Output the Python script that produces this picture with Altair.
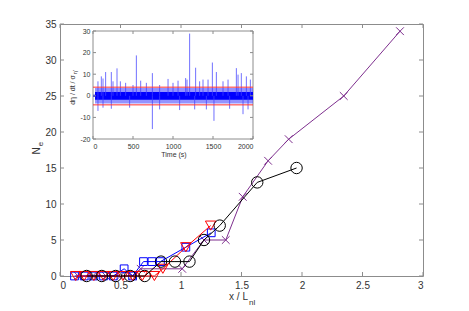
import altair as alt
import pandas as pd

# ---------------- main chart data ----------------
black_x = [0.22, 0.345, 0.46, 0.58, 0.70, 0.835, 0.95, 1.07, 1.19, 1.32, 1.63, 1.955]
black_y = [0, 0, 0, 0, 0, 2, 2, 2, 5, 7, 13, 15]
blue_x = [0.12, 0.20, 0.28, 0.36, 0.44, 0.53, 0.60, 0.69, 0.76, 0.83, 1.04, 1.25]
blue_y = [0, 0, 0, 0, 0, 1, 0, 2, 2, 2, 4, 6]
red_x = [0.13, 0.20, 0.28, 0.36, 0.44, 0.52, 0.60, 0.68, 0.78, 0.85, 1.04, 1.245]
red_y = [0, 0, 0, 0, 0, 0, 0, 0, 0, 1, 4, 7]
purple_x = [0.15, 0.27, 0.38, 0.50, 0.60, 0.667, 1.01, 1.19, 1.37, 1.51, 1.72, 1.89, 2.345, 2.81]
purple_y = [0, 0, 0, 0, 0, 1, 1, 5, 5, 11, 16, 19, 25, 34]

x_ticks = [0, 0.5, 1, 1.5, 2, 2.5, 3]
y_ticks = [0, 5, 10, 15, 20, 25, 30, 35]

# ---------------- inset data ----------------
up_t = [62, 104, 125, 158, 229, 250, 300, 342, 408, 500, 542, 596, 667, 742, 833, 938,
        1000, 1063, 1158, 1175, 1208, 1283, 1333, 1375, 1438, 1492, 1542, 1625, 1688,
        1792, 1813, 1854, 1917, 1967]
up_v = [6.7, 9, 8, 11, 11, 6.7, 12.7, 6.7, 6, 5, 18.7, 7, 6, 10.5, 5, 7.8,
        6, 7, 8.2, 7.5, 28.8, 13, 6.7, 7.5, 7.5, 15.4, 11, 6.7, 7.5,
        12.8, 9.8, 10.5, 9, 7.5]
down_t = [62, 125, 229, 458, 742, 833, 1083, 1271, 1417, 1512, 1708, 1875, 1938]
down_v = [-7, -5.5, -6, -5.5, -15.4, -6.3, -6.6, -6.3, -6.3, -11.6, -6, -8.5, -6.3]
band_t = [25, 2000]
core_lo, core_hi = -1.8, 1.8
halo_lo, halo_hi = -3.6, 3.6
thr_hi, thr_lo = 4.0, -4.2
ix_ticks = [0, 500, 1000, 1500, 2000]
iy_ticks = [-20, -10, 0, 10, 20, 30]

W, H = 363, 252
FONT = "Liberation Sans"
AX = "#8c8c8c"
TXT = "#333333"

# --------------- main layers ----------------
xs = alt.Scale(domain=[0, 3], nice=False)
ys = alt.Scale(domain=[0, 35], nice=False)
xaxis = alt.Axis(values=x_ticks, labelExpr="'' + datum.value", ticks=False, domain=False,
                 grid=False, title=None, labelFontSize=10, labelColor=TXT, labelFont=FONT,
                 labelPadding=4)
yaxis = alt.Axis(values=y_ticks, labelExpr="'' + datum.value", ticks=False, domain=False,
                 grid=False, title=None, labelFontSize=10, labelColor=TXT, labelFont=FONT,
                 labelPadding=4)


def series(xv, yv, color, shape, size):
    df = pd.DataFrame({"x": xv, "y": yv, "i": range(len(xv))})
    base = alt.Chart(df).encode(
        x=alt.X("x:Q", scale=xs, axis=xaxis),
        y=alt.Y("y:Q", scale=ys, axis=yaxis),
    )
    line = base.mark_line(color=color, strokeWidth=1).encode(order="i:Q")
    pts = base.mark_point(shape=shape, size=size, filled=False, color=color, strokeWidth=1, opacity=1)
    return [line, pts]


XSHAPE = "M-1,-1L1,1M-1,1L1,-1"
main_layers = []
main_layers += series(purple_x, purple_y, "#7E2F8E", XSHAPE, 60)
main_layers += series(blue_x, blue_y, "#0000FF", "square", 60)
main_layers += series(red_x, red_y, "#FF0000", "triangle-down", 110)
main_layers += series(black_x, black_y, "#000000", "circle", 130)

xt = pd.DataFrame({"v": x_ticks})
yt = pd.DataFrame({"v": y_ticks})
for (a, b) in [(H, H - 4), (0, 4)]:
    main_layers.append(alt.Chart(xt).mark_rule(color=AX, strokeWidth=1).encode(
        x=alt.X("v:Q", scale=xs, axis=xaxis), y=alt.value(a), y2=alt.value(b)))
for (a, b) in [(0, 4), (W, W - 4)]:
    main_layers.append(alt.Chart(yt).mark_rule(color=AX, strokeWidth=1).encode(
        y=alt.Y("v:Q", scale=ys, axis=yaxis), x=alt.value(a), x2=alt.value(b)))

one = pd.DataFrame({"k": [0]})


def label(txt, x, y, size, align="center", angle=0):
    return alt.Chart(one).mark_text(text=txt, fontSize=size, font=FONT, color=TXT,
                                    align=align, baseline="middle", angle=angle).encode(
        x=alt.value(x), y=alt.value(y))


main_layers += [
    label("x  / L", 188, 273, 10, align="right"),
    label("nl", 189, 279, 8, align="left"),
    label("N", -23, 127, 10, angle=270),
    label("e", -19, 120, 8, angle=270),
]
main = alt.layer(*main_layers)

# --------------- inset layers ----------------
ixs = alt.Scale(domain=[0, 2000], range=[33, 193], nice=False, zero=False)
iys = alt.Scale(domain=[-20, 30], range=[115, 7], nice=False, zero=False)
ixaxis = alt.Axis(orient="bottom", offset=115 - H, values=ix_ticks, labelExpr="'' + datum.value",
                  ticks=False, domain=False, grid=False, title=None, labelFontSize=7,
                  labelColor=TXT, labelFont=FONT, labelPadding=3)
iyaxis = alt.Axis(orient="left", offset=-33, values=iy_ticks, labelExpr="'' + datum.value",
                  ticks=False, domain=False, grid=False, title=None, labelFontSize=7,
                  labelColor=TXT, labelFont=FONT, labelPadding=3)

box = pd.DataFrame({"x0": [0], "x1": [2000], "y0": [-20], "y1": [30]})
inset_layers = [
    alt.Chart(box).mark_rect(fill="white", stroke=AX, strokeWidth=1).encode(
        x=alt.X("x0:Q", scale=ixs, axis=ixaxis), x2="x1:Q",
        y=alt.Y("y0:Q", scale=iys, axis=iyaxis), y2="y1:Q")
]
band = pd.DataFrame({"t": band_t, "hlo": [halo_lo] * 2, "hhi": [halo_hi] * 2,
                     "clo": [core_lo] * 2, "chi": [core_hi] * 2})
inset_layers.append(alt.Chart(band).mark_area(color="#3a3aff", opacity=0.55).encode(
    x=alt.X("t:Q", scale=ixs, axis=ixaxis), y=alt.Y("hlo:Q", scale=iys, axis=iyaxis), y2="hhi:Q"))
inset_layers.append(alt.Chart(band).mark_area(color="#0000ff", opacity=1).encode(
    x=alt.X("t:Q", scale=ixs, axis=ixaxis), y=alt.Y("clo:Q", scale=iys, axis=iyaxis), y2="chi:Q"))
flat = pd.DataFrame({"t": [0, 25], "v": [0, 0]})
inset_layers.append(alt.Chart(flat).mark_line(color="#0000ff", strokeWidth=2).encode(
    x=alt.X("t:Q", scale=ixs, axis=ixaxis), y=alt.Y("v:Q", scale=iys, axis=iyaxis)))
spikes = pd.DataFrame({"t": up_t + down_t, "v": up_v + down_v, "z": [0] * (len(up_t) + len(down_t))})
inset_layers.append(alt.Chart(spikes).mark_rule(color="#4040ff", strokeWidth=1, opacity=0.75).encode(
    x=alt.X("t:Q", scale=ixs, axis=ixaxis), y=alt.Y("z:Q", scale=iys, axis=iyaxis), y2="v:Q"))
thr = pd.DataFrame({"t0": [0, 0], "t1": [2000, 2000], "v": [thr_hi, thr_lo]})
inset_layers.append(alt.Chart(thr).mark_rule(color="#ff3030", strokeWidth=1).encode(
    x=alt.X("t0:Q", scale=ixs, axis=ixaxis), x2="t1:Q", y=alt.Y("v:Q", scale=iys, axis=iyaxis)))
ixt = pd.DataFrame({"v": ix_ticks})
iyt = pd.DataFrame({"v": iy_ticks})
for (a, b) in [(115, 112), (7, 10)]:
    inset_layers.append(alt.Chart(ixt).mark_rule(color=AX, strokeWidth=1).encode(
        x=alt.X("v:Q", scale=ixs, axis=ixaxis), y=alt.value(a), y2=alt.value(b)))
for (a, b) in [(33, 36), (193, 190)]:
    inset_layers.append(alt.Chart(iyt).mark_rule(color=AX, strokeWidth=1).encode(
        y=alt.Y("v:Q", scale=iys, axis=iyaxis), x=alt.value(a), x2=alt.value(b)))
inset_layers += [
    label("Time   (s)", 114, 131, 7),
    label("dη / dt / σ", 13, 66, 7, angle=270),
    label("η'", 15, 48, 5, angle=270),
]
inset = alt.layer(*inset_layers)

chart = alt.layer(main, inset).resolve_scale(x="independent", y="independent").properties(
    width=W, height=H,
    autosize=alt.AutoSizeParams(type="none"),
    padding={"left": 52, "top": 16, "right": 38, "bottom": 30},
).configure_view(stroke=AX, strokeWidth=1)

chart.save("out.html", embed_options={"renderer": "svg", "actions": False})
